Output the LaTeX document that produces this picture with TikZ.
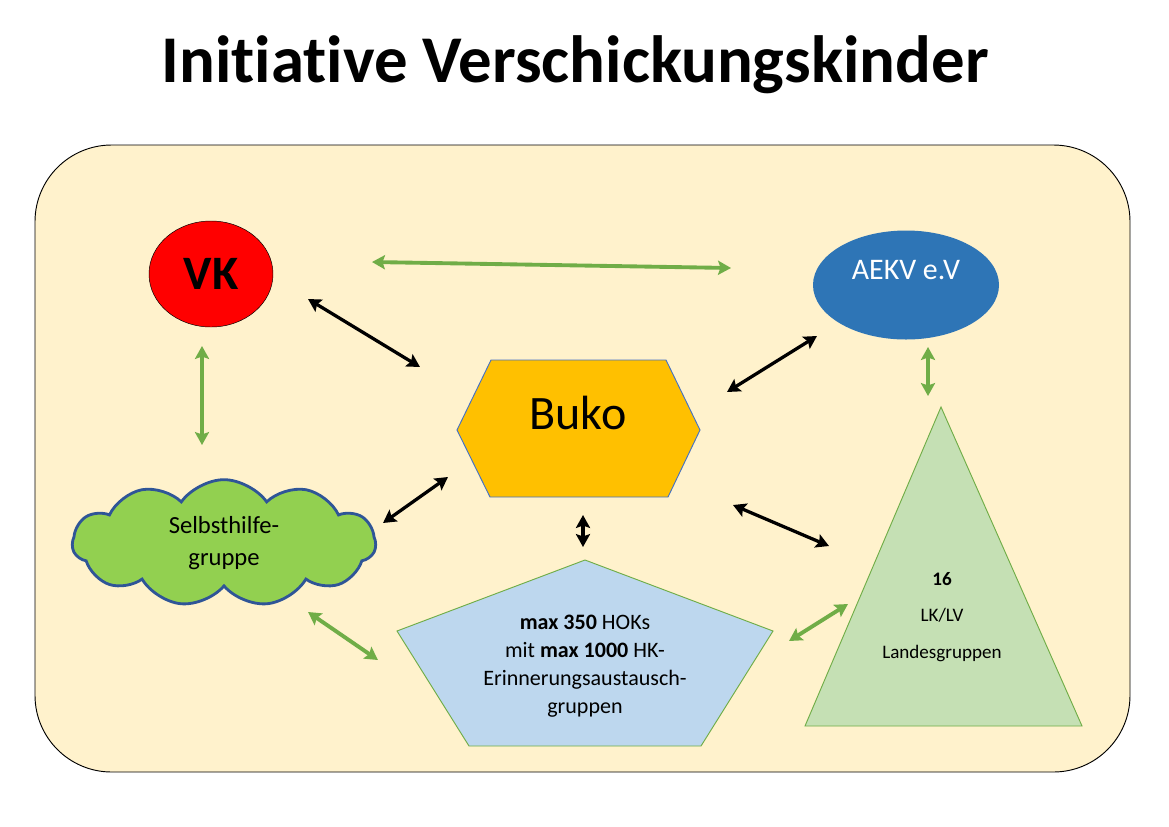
\documentclass[tikz,border=0pt]{standalone}
\usepackage{fontspec}
\setmainfont{Carlito}[Ligatures=CommonOff]
\usepackage{tikz}
\usetikzlibrary{arrows.meta,shapes.symbols,shapes.geometric}
\definecolor{bgyellow}{HTML}{FFF2CC}
\definecolor{aekvblue}{HTML}{2E75B6}
\definecolor{bukoorange}{HTML}{FFC000}
\definecolor{bukoline}{HTML}{4472C4}
\definecolor{cloudgreen}{HTML}{92D050}
\definecolor{cloudline}{HTML}{2F5597}
\definecolor{hokblue}{HTML}{BDD7EE}
\definecolor{lkgreen}{HTML}{C5E0B4}
\definecolor{arrowgreen}{HTML}{70AD47}

\begin{document}
\begin{tikzpicture}[
  x = 0.03cm, y = -0.03cm,
  every node/.style = {inner sep = 0pt, align = center},
  blackarrow/.style = {line width = 2.8pt, >={Stealth[length=11pt,width=12pt,inset=2pt]}, <->},
  greenarrow/.style = {arrowgreen, line width = 3.3pt, >={Stealth[length=11pt,width=12pt,inset=2pt]}, <->},
  greenline/.style = {draw = arrowgreen, line width = 0.8pt}
  ]
  \useasboundingbox (0,0) rectangle (1169,826);
  \node[anchor = base, font = \fontsize{57}{60}\selectfont\bfseries] (title) at (575,82) {Initiative Verschickungskinder};
  \draw[fill = bgyellow, line width = 0.8pt, rounded corners = 2.3cm] (35,145) rectangle (1130,772);

  \node[draw, ellipse, fill = red, minimum width = 124*0.03cm, minimum height = 106*0.03cm] (vkshape) at (211,274) {};
  \node[font = \fontsize{41}{44}\selectfont\bfseries] (vk) at (211,274) {VK};
  \node[ellipse, fill = aekvblue, minimum width = 186*0.03cm, minimum height = 109*0.03cm] (aekvshape) at (906,285) {};
  \node[text = white, font = \fontsize{25.5}{28}\selectfont] (aekv) at (906,270) {AEKV e.V};

  \draw[fill = bukoorange, draw = bukoline, line width = 0.8pt] (491,360) -- (666,360) -- (700,430) -- (668,497) -- (490,497) -- (457,430) -- cycle;
  \node[font = \fontsize{41}{44}\selectfont] (buko) at (578,413) {Buko};

  \node[cloud, cloud puffs = 11, cloud puff arc = 110, aspect = 2.4, fill = cloudgreen, draw = cloudline, line width = 2.4pt,
    minimum width = 9.1cm, minimum height = 3.8cm, font = \fontsize{21}{28}\selectfont] (shg) at (224,543) {Selbsthilfe-\\gruppe};

  \draw[fill = hokblue, greenline] (585,560) -- (773,631) -- (701,746) -- (469,746) -- (397,631) -- cycle;
  \node[font = \fontsize{18.8}{24}\selectfont] (hok) at (585,666) {\textbf{max 350} HOKs\\mit \textbf{max 1000} HK-\\Erinnerungsaustausch-\\gruppen};

  \draw[fill = lkgreen, greenline] (941,407) -- (1082,726) -- (805,726) -- cycle;
  \node[font = \fontsize{16.3}{31}\selectfont] (lk) at (942,617) {\textbf{16}\\LK/LV\\Landesgruppen};

  \coordinate (a1) at (308,299); \coordinate (b1) at (420,367);
  \coordinate (a2) at (727,392); \coordinate (b2) at (817,336);
  \coordinate (a3) at (733,505); \coordinate (b3) at (829,546);
  \coordinate (a4) at (448,477); \coordinate (b4) at (383,523);
  \coordinate (a5) at (583,515); \coordinate (b5) at (583,547);
  \coordinate (c1) at (372,262); \coordinate (d1) at (731,268);
  \coordinate (c2) at (202,346); \coordinate (d2) at (202,445);
  \coordinate (c3) at (928,347); \coordinate (d3) at (928,396);
  \coordinate (c4) at (308,612); \coordinate (d4) at (378,660);
  \coordinate (c5) at (789,641); \coordinate (d5) at (848,604);

  \draw[blackarrow] (a1) -- (b1);
  \draw[blackarrow] (a2) -- (b2);
  \draw[blackarrow] (a3) -- (b3);
  \draw[blackarrow] (a4) -- (b4);
  \draw[blackarrow] (a5) -- (b5);
  \draw[greenarrow] (c1) -- (d1);
  \draw[greenarrow] (c2) -- (d2);
  \draw[greenarrow] (c3) -- (d3);
  \draw[greenarrow] (c4) -- (d4);
  \draw[greenarrow] (c5) -- (d5);
\end{tikzpicture}
\end{document}
